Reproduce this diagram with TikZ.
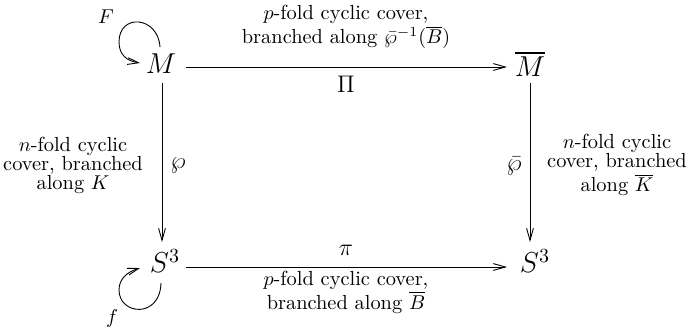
\documentclass[tikz,border=0pt]{standalone}
\usepackage{amsmath,amssymb}
\usetikzlibrary{arrows.meta}
\begin{document}
\begin{tikzpicture}[x=0.5pt,y=-0.5pt,
  obj/.style={font=\Large, inner sep=0pt},
  lbl/.style={font=\fontsize{10.2}{9.5}\selectfont, align=center, inner sep=0pt},
  maplbl/.style={font=\fontsize{12}{13}\selectfont, inner sep=0pt},
  arr/.style={-{Straight Barb[length=6pt,width=3.4pt]}, line width=0.45pt},
  loopar/.style={-{Straight Barb[length=5.5pt,width=3.4pt]}, line width=0.45pt}]
\useasboundingbox (0,0) rectangle (686,327);
\node[obj] (M) at (161,64) {$M$};
\node[obj] (Mb) at (530,64) {$\overline{M}$};
\node[obj] (S1) at (165,261) {$S^3$};
\node[obj] (S2) at (535,261) {$S^3$};
\draw[arr] (186,67) -- (507,67);
\draw[arr] (186,267) -- (507,267);
\draw[arr] (162,83) -- (162,242);
\draw[arr] (530,83) -- (530,242);
% labels
\node[lbl] (l1) at (346,27) {$p$-fold cyclic cover,\\ branched along $\bar{\wp}^{-1}(\overline{B})$};
\node[maplbl] (l2) at (346,84) {$\Pi$};
\node[maplbl] (l3) at (346,250) {$\pi$};
\node[lbl] (l4) at (346,292) {$p$-fold cyclic cover,\\ branched along $\overline{B}$};
\node[lbl] (l5) at (73,165) {$n$-fold cyclic\\ cover, branched\\ along $K$};
\node[maplbl] (l6) at (178,166) {$\wp$};
\node[lbl] (l7) at (617,165) {$n$-fold cyclic\\ cover, branched\\ along $\overline{K}$};
\node[maplbl] (l8) at (514,166) {$\bar{\wp}$};
% loops
\draw[loopar] (160,47) .. controls (158,16) and (119,13) .. (119,42) .. controls (119,55) and (127,61) .. (140,63);
\node[lbl] (F) at (106,17) {$F$};
\draw[loopar] (161,283) .. controls (160,319) and (119,315) .. (119,290) .. controls (119,279) and (127,272) .. (140,268);
\node[lbl] (f) at (112,318) {$f$};
\end{tikzpicture}
\end{document}
